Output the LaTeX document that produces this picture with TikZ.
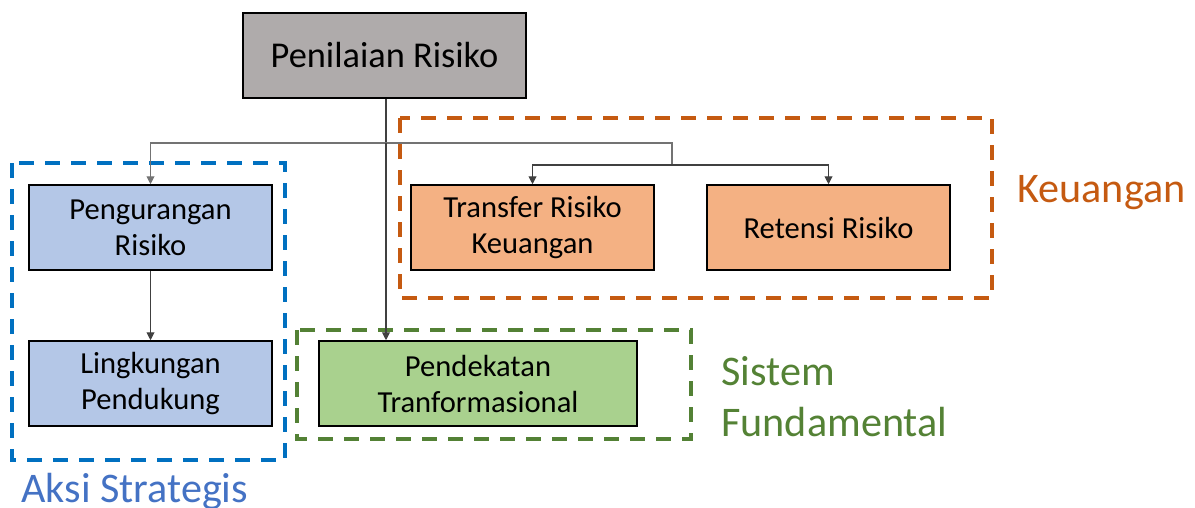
\documentclass[tikz,border=0pt]{standalone}
\usepackage{fontspec}
\setmainfont{Carlito}
\usetikzlibrary{positioning, arrows.meta}
\definecolor{boxgray}{HTML}{AFABAB}
\definecolor{boxblue}{HTML}{B4C7E7}
\definecolor{boxorange}{HTML}{F4B183}
\definecolor{boxgreen}{HTML}{A9D18E}
\definecolor{frameblue}{HTML}{0070C0}
\definecolor{frameorange}{HTML}{C55A11}
\definecolor{framegreen}{HTML}{538135}
\definecolor{textblue}{HTML}{4472C4}
\definecolor{textgreen}{HTML}{548235}
\tikzset{
	stepnode/.style={
			rectangle,
			draw=black,
			line width=0.9pt,
			minimum width=4.86cm,
			minimum height=1.7cm,
			inner sep=0pt,
			align=center,
			font=\fontsize{17.4}{20.5}\selectfont
		},
	topnode/.style={
			stepnode,
			fill=boxgray,
			minimum width=5.66cm,
			font=\fontsize{20.7}{24}\selectfont
		},
	bluenode/.style={
			stepnode,
			fill=boxblue
		},
	orangenode/.style={
			stepnode,
			fill=boxorange
		},
	greennode/.style={
			stepnode,
			fill=boxgreen,
			minimum width=6.36cm
		},
	groupframe/.style={
			line width=2.2pt,
			dash pattern=on 8.5pt off 6.3pt
		},
	grouplabel/.style={
			anchor=base west,
			inner sep=0pt,
			align=left,
			font=\fontsize{24}{29}\selectfont
		},
	link/.style={
			line width=0.6pt,
			draw=black!75,
			-{Triangle[width=4.5pt,length=4.5pt]}
		}
}

\begin{document}
\begin{tikzpicture}[x=0.02cm, y=-0.02cm]
\useasboundingbox (0,0) rectangle (1195,507);

% boxes
\node[topnode] (top) at (384.5,55.5) {Penilaian Risiko};
\node[bluenode] (reduce) at (150.5,227.5) {Pengurangan\\Risiko};
\node[bluenode] (support) at (150.5,383.5) {Lingkungan\\Pendukung};
\node[orangenode] (transfer) at (532.5,227.5) {Transfer Risiko\\Keuangan};
\node[orangenode] (retain) at (828.5,227.5) {Retensi Risiko};
\node[greennode] (approach) at (478,383.5) {Pendekatan\\Tranformasional};

% dashed groups
\draw[groupframe, frameblue] (12,163) rectangle (285,460);
\draw[groupframe, frameorange] (400,118) rectangle (992,298);
\draw[groupframe, framegreen] (297,330) rectangle (691,439);

\node[grouplabel, textblue] (lblaksi) at (21,502) {Aksi Strategis};
\node[grouplabel, frameorange] (lbluang) at (1017,202) {Keuangan};
\node[grouplabel, textgreen] (lblsistem) at (721,436) {Sistem\\Fundamental};

% connectors
\coordinate (hub) at (386,143);
\coordinate (fin) at (672,165);
\draw[link, -] (top.south -| hub) -- (hub);
\draw[link, draw=black!55] (hub) -| (reduce.north);
\draw[link, -, draw=black!55] (hub) -| (fin);
\draw[link] (fin) -| (transfer.north);
\draw[link] (fin) -| (retain.north);
\draw[link] (hub) -- (hub |- approach.north);
\draw[link] (reduce) -- (support);
\end{tikzpicture}
\end{document}
